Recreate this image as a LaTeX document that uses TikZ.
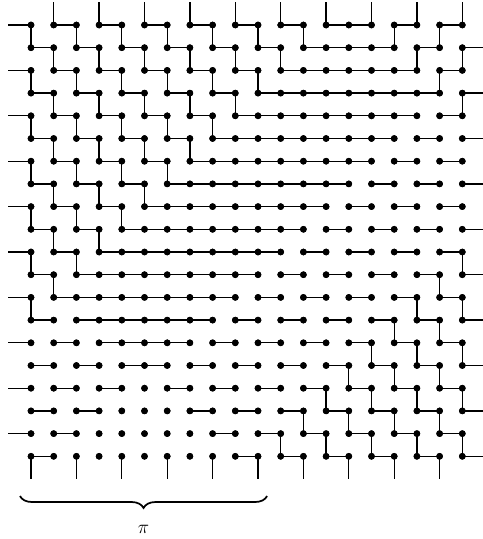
\documentclass[tikz,border=0pt]{standalone}
\usetikzlibrary{decorations.pathreplacing}
\begin{document}
\begin{tikzpicture}[x=0.6cm,y=-0.6cm,
  dot/.style={circle,fill=black,draw=none,inner sep=0pt,minimum size=5pt},
  link/.style={line width=1pt,black},
  bracestyle/.style={decorate,decoration={brace,mirror,amplitude=9pt},line width=1.3pt}]
\useasboundingbox (-1.3656,-1.1013) rectangle (19.868,22.643);
% lattice points
\foreach \i in {0,...,19}{
  \foreach \j in {0,...,19}{
    \node[dot] (v\i-\j) at (\i,\j) {};
  }
}
% boundary stub ends
\foreach \i in {1,3,...,19}{ \coordinate (t\i) at (\i,-1); }
\foreach \i in {0,2,...,18}{ \coordinate (b\i) at (\i,20); }
\foreach \j in {0,2,...,18}{ \coordinate (l\j) at (-1,\j); }
\foreach \j in {1,3,...,19}{ \coordinate (r\j) at (20,\j); }
\foreach \i in {1,3,...,19}{ \draw[link] (t\i) -- (v\i-0.center); }
\foreach \i in {0,2,...,18}{ \draw[link] (v\i-19.center) -- (b\i); }
\foreach \j in {0,2,...,18}{ \draw[link] (l\j) -- (v0-\j.center); }
\foreach \j in {1,3,...,19}{ \draw[link] (v19-\j.center) -- (r\j); }
% horizontal runs
\foreach \r/\runs in {
  0/{1/2,3/4,5/6,7/8,9/10,11/12,13/15,16/17,18/19},
  1/{0/1,2/3,4/5,6/7,8/9,10/11,12/16,17/18},
  2/{1/2,3/4,5/6,7/8,9/10,11/17,18/19},
  3/{0/1,2/3,4/5,6/7,8/9,10/18},
  4/{1/2,3/4,5/6,7/8,9/17,18/19},
  5/{0/1,2/3,4/5,6/7,8/16,17/18},
  6/{1/2,3/4,5/6,7/15,16/17,18/19},
  7/{0/1,2/3,4/5,6/14,15/16,17/18},
  8/{1/2,3/4,5/13,14/15,16/17,18/19},
  9/{0/1,2/3,4/12,13/14,15/16,17/18},
  10/{1/2,3/11,12/13,14/15,16/17,18/19},
  11/{0/1,2/10,11/12,13/14,15/16,17/18},
  12/{1/9,10/11,12/13,14/15,16/17,18/19},
  13/{0/1,2/8,9/10,11/12,13/14,15/16,17/18},
  14/{1/2,3/7,8/9,10/11,12/13,14/15,16/17,18/19},
  15/{0/1,2/3,4/6,7/8,9/10,11/12,13/14,15/16,17/18},
  16/{1/2,3/4,6/7,8/9,10/11,12/13,14/15,16/17,18/19},
  17/{0/1,2/3,7/8,9/10,11/12,13/14,15/16,17/18},
  18/{1/2,8/9,10/11,12/13,14/15,16/17,18/19},
  19/{0/1,9/10,11/12,13/14,15/16,17/18}}{
  \foreach \a/\b in \runs { \draw[link] (v\a-\r.center) -- (v\b-\r.center); }
}
% vertical edges between row j and j+1
\foreach \j/\cols in {
  0/{0,2,4,6,8,10,12,16,18},
  1/{1,3,5,7,9,11,17,19},
  2/{0,2,4,6,8,10,18},
  3/{1,3,5,7,9,19},
  4/{0,2,4,6,8},
  5/{1,3,5,7},
  6/{0,2,4,6},
  7/{1,3,5},
  8/{0,2,4},
  9/{1,3},
  10/{0,2,19},
  11/{1,18},
  12/{0,17,19},
  13/{16,18},
  14/{15,17,19},
  15/{14,16,18},
  16/{13,15,17,19},
  17/{12,14,16,18},
  18/{11,13,15,17,19}}{
  \pgfmathtruncatemacro{\k}{\j+1}
  \foreach \c in \cols { \draw[link] (v\c-\j.center) -- (v\c-\k.center); }
}
% redraw dots on top
\foreach \i in {0,...,19}{
  \foreach \j in {0,...,19}{
    \fill (v\i-\j.center) circle (2.5pt);
  }
}
% brace and label
\coordinate (bl) at (-0.485,20.75);
\coordinate (br) at (10.4,20.75);
\draw[bracestyle] (bl) -- (br);
\node (pi) at (4.96,22.2) {\Large$\pi$};
\end{tikzpicture}
\end{document}
